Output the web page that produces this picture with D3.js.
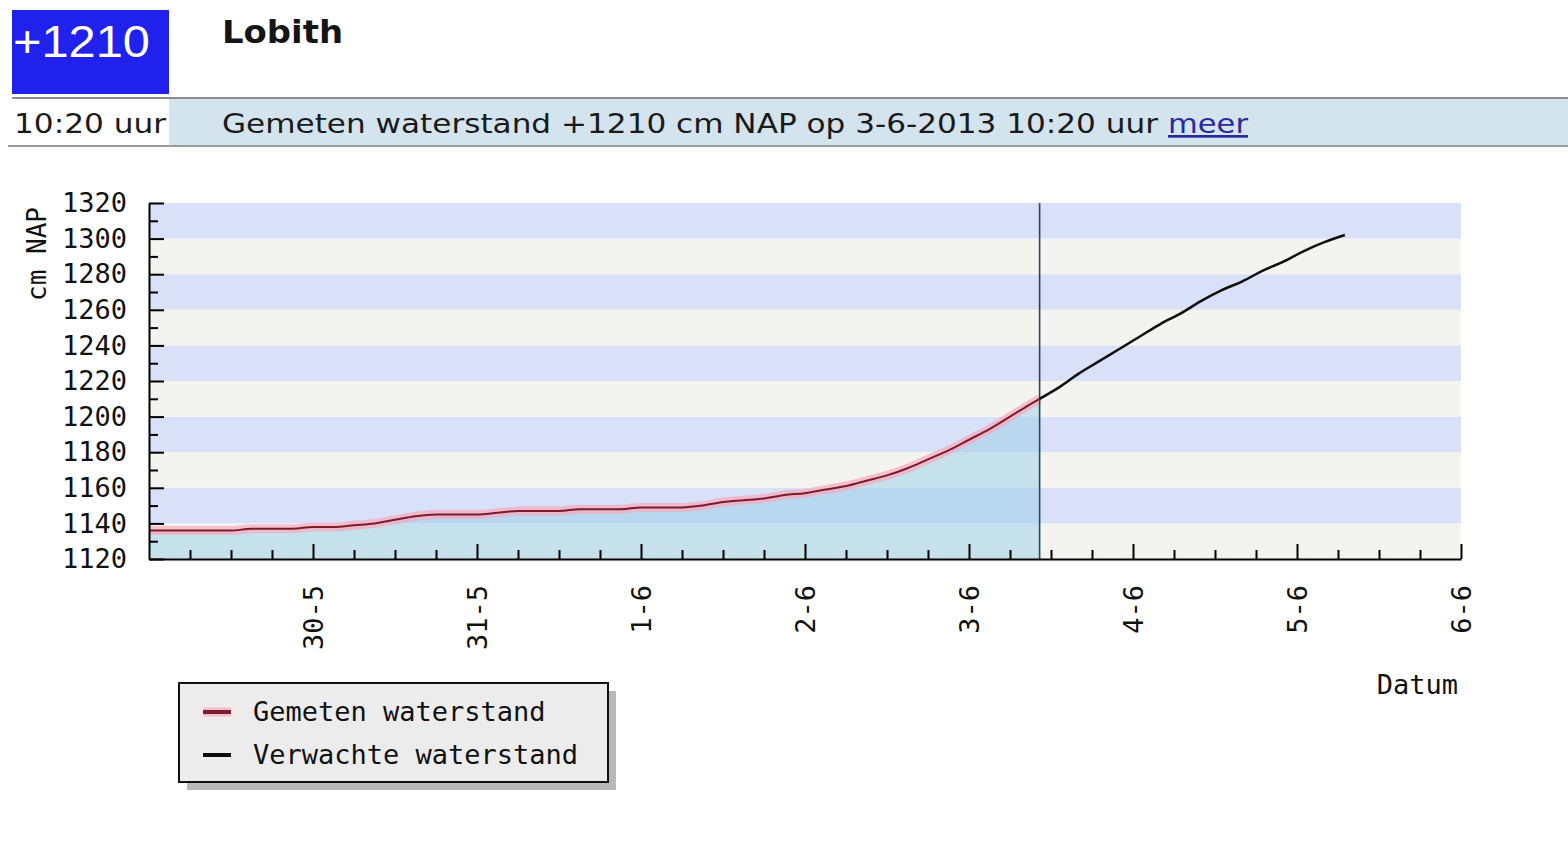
<!DOCTYPE html>
<html>
<head>
<meta charset="utf-8">
<script src="https://cdn.jsdelivr.net/npm/d3@7"></script>
<style>
  html, body { margin: 0; padding: 0; background: #ffffff; }
  svg { display: block; }
</style>
</head>
<body>
<svg id="chart" width="1568" height="856"></svg>
<script>
// ---------------- DATA ----------------
const stationName = "Lobith";
const currentLevel = "+1210";
const currentTime = "10:20 uur";
const statusText = "Gemeten waterstand +1210 cm NAP op 3-6-2013 10:20 uur";
const linkText = "meer";
const nowTime = "2013-06-03 10:20";

const measuredTimes = [
  "2013-05-29 00:00","2013-05-29 03:00","2013-05-29 06:00","2013-05-29 09:00",
  "2013-05-29 12:00","2013-05-29 15:00","2013-05-29 18:00","2013-05-29 21:00",
  "2013-05-30 00:00","2013-05-30 03:00","2013-05-30 06:00","2013-05-30 09:00",
  "2013-05-30 12:00","2013-05-30 15:00","2013-05-30 18:00","2013-05-30 21:00",
  "2013-05-31 00:00","2013-05-31 03:00","2013-05-31 06:00","2013-05-31 09:00",
  "2013-05-31 12:00","2013-05-31 15:00","2013-05-31 18:00","2013-05-31 21:00",
  "2013-06-01 00:00","2013-06-01 03:00","2013-06-01 06:00","2013-06-01 09:00",
  "2013-06-01 12:00","2013-06-01 15:00","2013-06-01 18:00","2013-06-01 21:00",
  "2013-06-02 00:00","2013-06-02 03:00","2013-06-02 06:00","2013-06-02 09:00",
  "2013-06-02 12:00","2013-06-02 15:00","2013-06-02 18:00","2013-06-02 21:00",
  "2013-06-03 00:00","2013-06-03 03:00","2013-06-03 06:00","2013-06-03 09:00",
  "2013-06-03 10:20"
];
const measuredValues = [
  1136,1136,1136,1136,1136,1137,1137,1137,
  1138,1138,1139,1140,1142,1144,1145,1145,
  1145,1146,1147,1147,1147,1148,1148,1148,
  1149,1149,1149,1150,1152,1153,1154,1156,
  1157,1159,1161,1164,1167,1171,1176,1181,
  1187,1193,1200,1207,1210
];

const forecastTimes = [
  "2013-06-03 10:20","2013-06-03 13:00","2013-06-03 16:00","2013-06-03 19:00",
  "2013-06-03 22:00","2013-06-04 01:00","2013-06-04 04:00","2013-06-04 07:00",
  "2013-06-04 10:00","2013-06-04 13:00","2013-06-04 16:00","2013-06-04 19:00",
  "2013-06-04 22:00","2013-06-05 01:00","2013-06-05 04:00","2013-06-05 07:00"
];
const forecastValues = [
  1210,1216,1224,1231,1238,1245,1252,1258,
  1265,1271,1276,1282,1287,1293,1298,1302
];

const yTickValues = [1120,1140,1160,1180,1200,1220,1240,1260,1280,1300,1320];
const xDayTicks = ["2013-05-30","2013-05-31","2013-06-01","2013-06-02","2013-06-03","2013-06-04","2013-06-05","2013-06-06"];
const xDomain = ["2013-05-29 00:00","2013-06-06 00:00"];
const yAxisTitle = "cm NAP";
const xAxisTitle = "Datum";
const legendLabels = ["Gemeten waterstand","Verwachte waterstand"];

// ---------------- DRAW ----------------
const parseT = d3.timeParse("%Y-%m-%d %H:%M");
const parseD = d3.timeParse("%Y-%m-%d");
const svg = d3.select("#chart");
const mono = "'DejaVu Sans Mono', monospace";

// Header
svg.append("rect").attr("x",12).attr("y",10).attr("width",157).attr("height",84).attr("fill","#2121ee");
svg.append("text").attr("x",13).attr("y",57).attr("fill","#ffffff")
  .attr("font-family","'Liberation Sans', Arial, sans-serif").attr("font-size",45)
  .attr("textLength",137).attr("lengthAdjust","spacingAndGlyphs").text(currentLevel);
svg.append("text").attr("x",222).attr("y",43).attr("fill","#151515")
  .attr("font-family","'DejaVu Sans', Verdana, sans-serif").attr("font-weight","bold").attr("font-size",32)
  .attr("textLength",121).attr("lengthAdjust","spacingAndGlyphs").text(stationName);
svg.append("rect").attr("x",169).attr("y",99).attr("width",1399).attr("height",46).attr("fill","#d3e4ee");
svg.append("line").attr("x1",12).attr("x2",1568).attr("y1",98).attr("y2",98).attr("stroke","#8c8c8c").attr("stroke-width",2);
svg.append("line").attr("x1",8).attr("x2",1568).attr("y1",146).attr("y2",146).attr("stroke","#9c9c9c").attr("stroke-width",2);
svg.append("text").attr("x",14).attr("y",133).attr("fill","#1a1a1a")
  .attr("font-family","'DejaVu Sans', Verdana, sans-serif").attr("font-size",27)
  .attr("textLength",152).attr("lengthAdjust","spacingAndGlyphs").text(currentTime);
svg.append("text").attr("x",222).attr("y",133).attr("fill","#1a1a1a")
  .attr("font-family","'DejaVu Sans', Verdana, sans-serif").attr("font-size",27)
  .attr("textLength",936).attr("lengthAdjust","spacingAndGlyphs").text(statusText);
svg.append("text").attr("x",1168).attr("y",133).attr("fill","#2a2a9e")
  .attr("font-family","'DejaVu Sans', Verdana, sans-serif").attr("font-size",27)
  .attr("text-decoration","underline")
  .attr("textLength",80).attr("lengthAdjust","spacingAndGlyphs").text(linkText);

// Scales
const x = d3.scaleTime().domain(xDomain.map(parseT)).range([149,1461]);
const y = d3.scaleLinear().domain([1120,1320]).range([559,203]);

const g = svg.append("g");

// Background bands
const bandStarts = yTickValues.slice(0,-1);
g.selectAll("rect.band").data(bandStarts).enter().append("rect")
  .attr("class","band")
  .attr("x",x.range()[0]).attr("width",x.range()[1]-x.range()[0])
  .attr("y",d=>y(d+20)).attr("height",d=>y(d)-y(d+20))
  .attr("fill",(d,i)=> i%2===0 ? "#f3f3f0" : "#d9e1f8");

const measured = measuredTimes.map((t,i)=>({t:parseT(t), v:measuredValues[i]}));
const forecast = forecastTimes.map((t,i)=>({t:parseT(t), v:forecastValues[i]}));

// Area under measured
g.append("path").datum(measured)
  .attr("d", d3.area().x(d=>x(d.t)).y0(y(1120)).y1(d=>y(d.v)).curve(d3.curveMonotoneX))
  .attr("fill","#9ed2ea").attr("fill-opacity",0.55);

// Measured line glow + line
const lineGen = d3.line().x(d=>x(d.t)).y(d=>y(d.v)).curve(d3.curveMonotoneX);
g.append("path").datum(measured).attr("d",lineGen)
  .attr("fill","none").attr("stroke","#f6a9bd").attr("stroke-opacity",0.7).attr("stroke-width",9).attr("stroke-linejoin","round");
g.append("path").datum(measured).attr("d",lineGen)
  .attr("fill","none").attr("stroke","#7d1a2c").attr("stroke-width",2);

// Now line
const nowX = x(parseT(nowTime));
g.append("line").attr("x1",nowX).attr("x2",nowX).attr("y1",y(1320)).attr("y2",y(1120))
  .attr("stroke","#2b4656").attr("stroke-width",1.6);

// Forecast line
g.append("path").datum(forecast).attr("d",lineGen)
  .attr("fill","none").attr("stroke","#0d0d0d").attr("stroke-width",2.5);

// Y axis: minor ticks
const yMinor = d3.range(1130,1320,20);
svg.append("g").attr("transform",`translate(${x.range()[0]},0)`)
  .call(d3.axisLeft(y).tickValues(yMinor).tickSizeInner(-9).tickSizeOuter(0).tickFormat(""))
  .call(s=>s.select(".domain").remove())
  .call(s=>s.selectAll("line").attr("stroke","#000").attr("stroke-width",2));
// Y axis: major
const yAx = svg.append("g").attr("transform",`translate(${x.range()[0]},0)`)
  .call(d3.axisLeft(y).tickValues(yTickValues).tickSizeInner(-15).tickSizeOuter(0).tickPadding(22).tickFormat(d3.format("d")));
yAx.select(".domain").attr("stroke","#000").attr("stroke-width",2);
yAx.selectAll("line").attr("stroke","#000").attr("stroke-width",2);
yAx.selectAll("text").attr("font-family",mono).attr("font-size",27).attr("fill","#111");

// X axis: minor ticks every 6 hours
const minorTimes = d3.timeHour.every(6).range(x.domain()[0], x.domain()[1]).filter(d=>d.getHours()!==0);
svg.append("g").attr("transform",`translate(0,${y.range()[0]})`)
  .call(d3.axisBottom(x).tickValues(minorTimes).tickSizeInner(-9).tickSizeOuter(0).tickFormat(""))
  .call(s=>s.select(".domain").remove())
  .call(s=>s.selectAll("line").attr("stroke","#000").attr("stroke-width",2));
// X axis: major
const xAx = svg.append("g").attr("transform",`translate(0,${y.range()[0]})`)
  .call(d3.axisBottom(x).tickValues(xDayTicks.map(parseD)).tickSizeInner(-15).tickSizeOuter(0)
    .tickFormat(d=>`${d.getDate()}-${d.getMonth()+1}`));
xAx.select(".domain").attr("stroke","#000").attr("stroke-width",2);
xAx.selectAll("line").attr("stroke","#000").attr("stroke-width",2);
xAx.selectAll("text")
  .attr("font-family",mono).attr("font-size",27).attr("fill","#111")
  .attr("text-anchor","end").attr("transform","rotate(-90)")
  .attr("x",-26).attr("y",0).attr("dy","0.35em");

// Axis titles
svg.append("text").attr("transform","translate(37,207) rotate(-90)")
  .attr("text-anchor","end").attr("dy","0.35em")
  .attr("font-family",mono).attr("font-size",26).attr("fill","#111").text(yAxisTitle);
svg.append("text").attr("x",1458).attr("y",694).attr("text-anchor","end")
  .attr("font-family",mono).attr("font-size",27).attr("fill","#111").text(xAxisTitle);

// Legend
const lg = svg.append("g");
lg.append("rect").attr("x",187).attr("y",691).attr("width",429).attr("height",99).attr("fill","#b8b8b8");
lg.append("rect").attr("x",179).attr("y",683).attr("width",429).attr("height",99)
  .attr("fill","#ececec").attr("stroke","#111").attr("stroke-width",2);
const legendItems = [
  {label:legendLabels[0], color:"#7d1a2c", glow:true, yy:712},
  {label:legendLabels[1], color:"#0d0d0d", glow:false, yy:755}
];
legendItems.forEach(it=>{
  if (it.glow) lg.append("line").attr("x1",203).attr("x2",231).attr("y1",it.yy).attr("y2",it.yy)
    .attr("stroke","#f6a9bd").attr("stroke-opacity",0.7).attr("stroke-width",9);
  lg.append("line").attr("x1",203).attr("x2",231).attr("y1",it.yy).attr("y2",it.yy)
    .attr("stroke",it.color).attr("stroke-width",4);
  lg.append("text").attr("x",253).attr("y",it.yy).attr("dy","0.35em")
    .attr("font-family",mono).attr("font-size",27).attr("fill","#111").text(it.label);
});
</script>
</body>
</html>
